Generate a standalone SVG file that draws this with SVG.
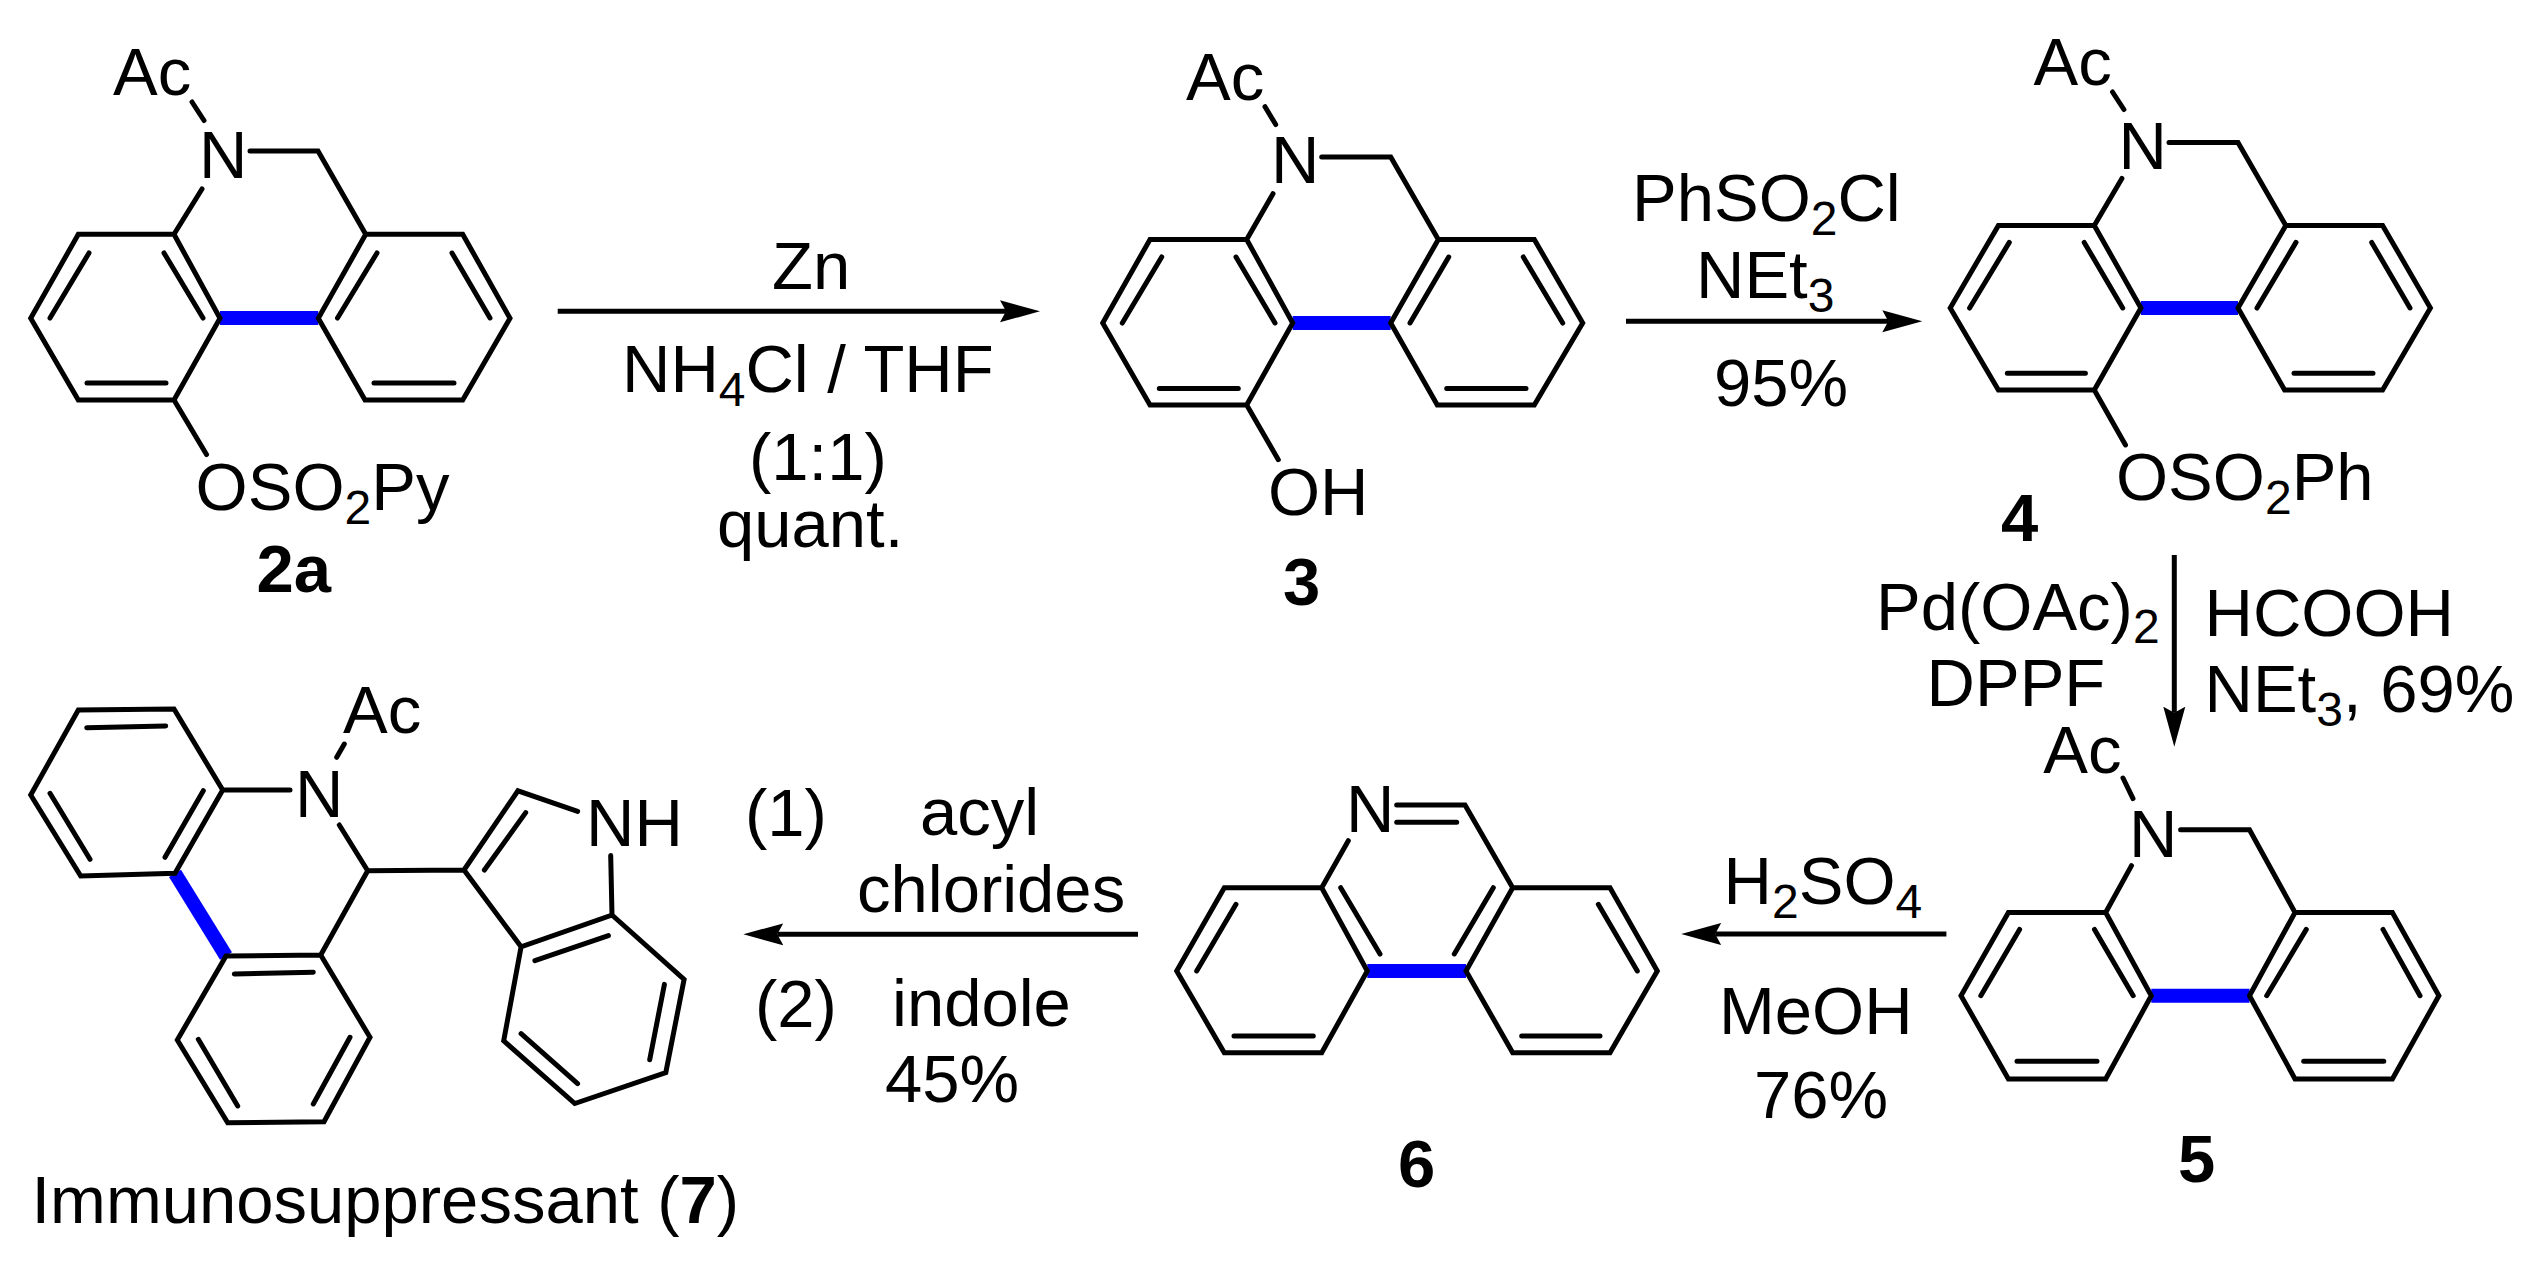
<svg xmlns="http://www.w3.org/2000/svg" width="2535" height="1262" viewBox="0 0 2535 1262">
<style>
text{font-family:"Liberation Sans",Arial,sans-serif;font-size:67px;fill:#000}
.s{font-size:48px}
.n{font-weight:bold}
.bd{fill:none;stroke:#000;stroke-width:5;stroke-linejoin:miter;stroke-linecap:round}
.bl{fill:none;stroke:#0000ff;stroke-width:14}
.ar{fill:none;stroke:#000;stroke-width:5;marker-end:url(#head)}
</style>
<defs>
<marker id="head" markerUnits="userSpaceOnUse" markerWidth="42" markerHeight="24" viewBox="0 -12 42 24" refX="6" refY="0" orient="auto">
<path d="M0,-11 L40,0 L0,11 L6,0 Z" fill="#000"/>
</marker>
</defs>
<rect width="2535" height="1262" fill="#fff"/>
<g id="connectors">
<path class="ar" d="M557.7,311.3 L1006,311.3"/>
<path class="ar" d="M1626,321.3 L1888.3,321.3"/>
<path class="ar" d="M2174.3,555 L2174.3,712.7"/>
<path class="ar" d="M1946.4,934 L1715.2,934"/>
<path class="ar" d="M1138,934.3 L777.3,934.3"/>
</g>
<g id="mol-2a">
<path class="bl" d="M220,318 L318.3,318"/>
<path class="bd" d="M30.7,318.3 L78.3,234.3 L174,234.3 L220,318.3 L174,400 L78.3,400 Z M318.3,318.3 L365.7,234.3 L462.7,234.3 L510,318.3 L462.7,400 L365,400 Z M50,318 L89,253 M164,253 L203,318 M87,383 L166,383 M337.5,318 L377,253 M452,253 L490,318 M374,383 L454,383 M174,234.3 L202,189 M250,151 L318,151 L365.7,234.3 M204,120.5 L192,102 M174,400 L206.5,454.5"/>
<text x="113" y="95">Ac</text>
<text x="199" y="178.3">N</text>
<text x="195.6" y="510">OSO<tspan class="s" dy="14.3">2</tspan><tspan dy="-14.3">Py</tspan></text>
<text class="n" x="256.5" y="591.7">2a</text>
</g>
<g id="label-zn">
<text x="772" y="289">Zn</text>
<text x="622" y="391.7">NH<tspan class="s" dy="14">4</tspan><tspan dy="-14">Cl / THF</tspan></text>
<text x="749" y="480">(1:1)</text>
<text x="717" y="546.7">quant.</text>
</g>
<g id="mol-3">
<path class="bl" d="M1292.7,323 L1390.7,323"/>
<path class="bd" d="M1102.7,323 L1150,239.5 L1246.7,239.5 L1292.7,323 L1246.7,405 L1150,405 Z M1390.7,323 L1438.3,239.5 L1534.3,239.5 L1582.7,323 L1534.3,405 L1437.3,405 Z M1122.3,323 L1161.7,257 M1236,257 L1275,323 M1159.3,388.5 L1238.3,388.5 M1410,323 L1448.7,257 M1523.3,257 L1562.7,323 M1446.7,388.5 L1526,388.5 M1246.7,239.5 L1273,193.7 M1321.7,157 L1390.7,157 L1438.3,239.5 M1275.7,124.5 L1265,106.7 M1246.7,405 L1278.3,459.7"/>
<text x="1186" y="100">Ac</text>
<text x="1271" y="183">N</text>
<text x="1268" y="515">OH</text>
<text class="n" x="1283" y="605">3</text>
</g>
<g id="label-phso2cl">
<text x="1632" y="221">PhSO<tspan class="s" dy="14">2</tspan><tspan dy="-14">Cl</tspan></text>
<text x="1696" y="298.3">NEt<tspan class="s" dy="14">3</tspan></text>
<text x="1714" y="406">95%</text>
</g>
<g id="mol-4">
<path class="bl" d="M2140.9,308 L2238,308"/>
<path class="bd" d="M1950.2,308 L1998.4,225.4 L2094.3,225.4 L2140.9,308 L2094.3,390 L1998.4,390 Z M2238,308 L2285.8,225.4 L2382.6,225.4 L2430.4,308 L2382.6,390 L2284.6,390 Z M1969.6,308 L2009.3,242.4 M2084.2,242.4 L2122.7,308 M2007.3,373.2 L2085.4,373.2 M2257,308 L2296,242.4 M2371.7,242.4 L2410,308 M2294,373.2 L2373,373.2 M2094.3,225.4 L2121.9,178.4 M2169,142.5 L2238,142.5 L2285.8,225.4 M2123.9,109.5 L2112.5,92 M2094.3,390 L2125.5,445"/>
<text x="2033.6" y="85">Ac</text>
<text x="2118.5" y="168.7">N</text>
<text x="2116" y="500">OSO<tspan class="s" dy="14">2</tspan><tspan dy="-14">Ph</tspan></text>
<text class="n" x="2001" y="541">4</text>
</g>
<g id="label-pd">
<text x="1876" y="630">Pd(OAc)<tspan class="s" dy="13.3">2</tspan></text>
<text x="1926.6" y="706">DPPF</text>
<text x="2204.5" y="635.7">HCOOH</text>
<text x="2204.5" y="712.3">NEt<tspan class="s" dy="13.7">3</tspan><tspan dy="-13.7">, 69%</tspan></text>
</g>
<g id="mol-5">
<path class="bl" d="M2151.3,995.7 L2249.5,995.7"/>
<path class="bd" d="M1961,995.7 L2008.4,912.5 L2105.7,912.5 L2151.3,995.7 L2105.7,1078.9 L2008.4,1078.9 Z M2249.5,995.7 L2295,912.5 L2392.4,912.5 L2438.9,995.7 L2392.4,1078.9 L2295,1078.9 Z M1980.8,995.7 L2019.6,929.4 M2094.5,929.4 L2133.2,995.7 M2017,1061.3 L2097,1061.3 M2266.7,995.7 L2306.3,929.4 M2383,929.4 L2420,995.7 M2303.7,1061.3 L2383.8,1061.3 M2105.7,912.5 L2131.5,865.6 M2180.6,829.7 L2249.5,829.7 L2295,912.5 M2133,798.6 L2123,778"/>
<text x="2043.3" y="773.3">Ac</text>
<text x="2129" y="856.6">N</text>
<text class="n" x="2178" y="1182">5</text>
</g>
<g id="label-h2so4">
<text x="1723.6" y="904">H<tspan class="s" dy="14">2</tspan><tspan dy="-14">SO</tspan><tspan class="s" dy="14">4</tspan></text>
<text x="1719" y="1034.4">MeOH</text>
<text x="1754" y="1118">76%</text>
</g>
<g id="mol-6">
<path class="bl" d="M1367.3,971 L1466,971"/>
<path class="bd" d="M1176.7,971 L1224.3,887.7 L1321.7,887.7 L1367.3,971 L1321.7,1052.7 L1224.3,1052.7 Z M1466,971 L1512.7,887.7 L1610,887.7 L1657.3,971 L1610,1052.7 L1512.7,1052.7 Z M1196.7,971 L1236,904.3 M1340.7,887.7 L1380,954 M1234,1036 L1313.3,1036 M1454.3,954 L1493.3,887.7 M1598.3,904.3 L1637.3,971 M1521.7,1036 L1600,1036 M1321.7,887.7 L1348.3,840.7 M1396.7,805 L1465,805 L1512.7,887.7 M1396.7,822.3 L1456.7,822.3"/>
<text x="1346" y="831.7">N</text>
<text class="n" x="1398" y="1187.3">6</text>
</g>
<g id="label-acyl">
<text x="745" y="835.7">(1)</text>
<text x="920" y="835">acyl</text>
<text x="857" y="912.3">chlorides</text>
<text x="755" y="1026.7">(2)</text>
<text x="892" y="1026">indole</text>
<text x="885" y="1101.7">45%</text>
</g>
<g id="mol-7">
<path class="bl" d="M175,873.3 L226,956"/>
<path class="bd" d="M30.7,795 L78.3,710 L174,709 L222.7,790 L175,873.3 L80.7,876 Z M226,956 L320.7,955 L370,1037.3 L324,1121.7 L227.7,1122.7 L177.3,1040 Z M86.7,727.7 L165.7,726 M50,793.3 L90,859.3 M165,857.3 L203.3,790.7 M234.3,974 L313.3,972.3 M198.3,1039.3 L237.7,1106 M313.3,1104 L350,1037.3 M222.7,790 L290,790 M339.3,825 L367.7,870.7 L320.7,955 M367.7,870.7 L464,870 M336.7,757.3 L344.3,744 M464,870 L517.9,790.8 L577.6,811.4 M484.4,870 L525.7,812.6 M610.7,855.5 L612,915 L521.1,946.8 L464,870 M521.1,946.8 L503.7,1040.8 L574.8,1103.5 L665.8,1072.5 L684.1,979.3 L612,915 M534.9,960.6 L608.4,935.6 M521.1,1033.7 L577.6,1083.7 M649.7,1059.8 L664.4,984.4"/>
<text x="343" y="732.7">Ac</text>
<text x="295" y="816.7">N</text>
<text x="586" y="846.3">NH</text>
<text x="31.5" y="1222.5">Immunosuppressant (<tspan class="n">7</tspan>)</text>
</g>
</svg>
